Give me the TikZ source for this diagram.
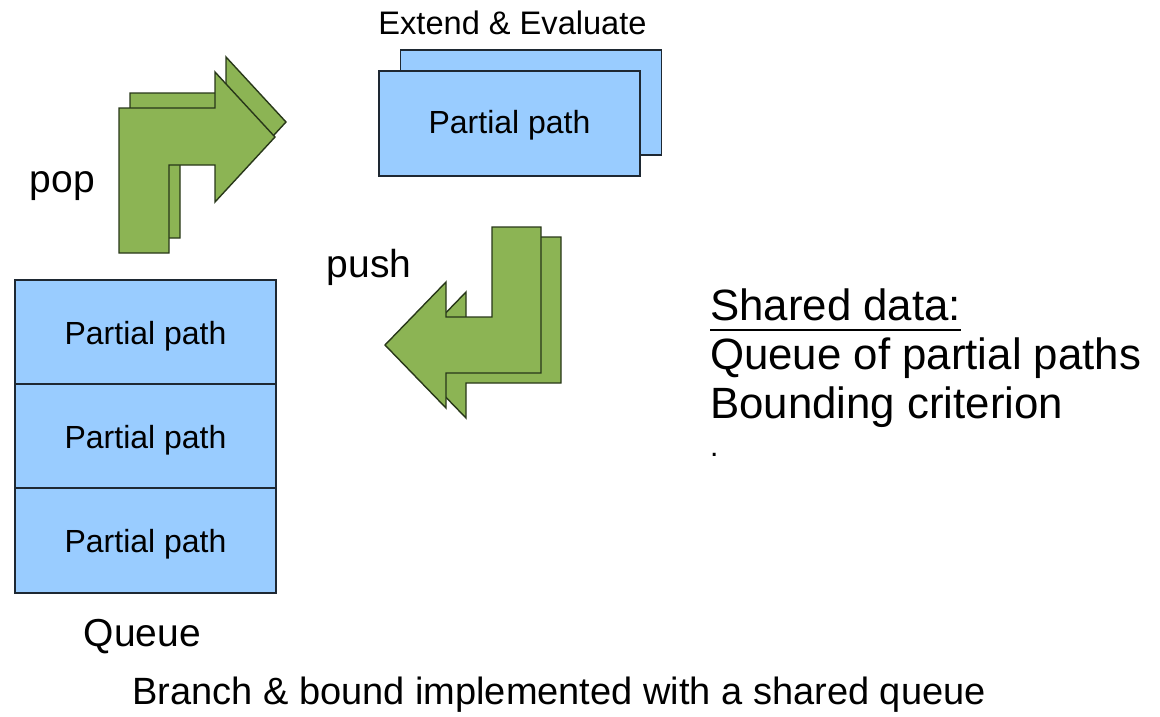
\documentclass[tikz,border=0pt]{standalone}
\usepackage{fontspec}
\usetikzlibrary{calc}
\setmainfont{Liberation Sans}
\definecolor{boxblue}{RGB}{153,204,255}
\definecolor{boxline}{RGB}{30,40,50}
\definecolor{arrgreen}{RGB}{140,180,84}
\definecolor{arrline}{RGB}{40,55,25}
\begin{document}
\begin{tikzpicture}[x=1pt,y=-1pt,
  pbox/.style={draw=boxline,fill=boxblue,line width=1.2pt,inner sep=0pt,outer sep=0pt,
    minimum width=261pt,minimum height=104pt,text height=31pt,text depth=7pt,
    font=\fontsize{32}{38}\selectfont},
  bent/.style={draw=arrline,fill=arrgreen,line width=1.4pt,line join=miter},
  lbl/.style={inner sep=0pt,anchor=base,font=\fontsize{39}{46}\selectfont},
  shared/.style={inner sep=0pt,anchor=base west,font=\fontsize{43.8}{50}\selectfont}]
\useasboundingbox (0,0) rectangle (1160,716);
% pop arrow (back, front)
\path[bent] (130,238) -- (130,93) -- (226,93) -- (226,57) -- (286,122) -- (226,187) -- (226,150) -- (180,150) -- (180,238) -- cycle;
\path[bent] (119,253) -- (119,108) -- (215,108) -- (215,72) -- (275,137) -- (215,202) -- (215,165) -- (169,165) -- (169,253) -- cycle;
% push arrow (back, front)
\path[bent] (512,237) -- (561,237) -- (561,383) -- (466,383) -- (466,418) -- (405,355) -- (466,292) -- (466,327) -- (512,327) -- cycle;
\path[bent] (492,227) -- (541,227) -- (541,373) -- (446,373) -- (446,408) -- (385,345) -- (446,282) -- (446,317) -- (492,317) -- cycle;
% top boxes
\node[pbox,minimum height=105pt] (eback) at (531,102.5) {};
\node[pbox,minimum height=105pt,text height=26pt] (efront) at (509.5,123.5) {Partial path};
\node[inner sep=0pt,anchor=base,font=\fontsize{32.6}{38}\selectfont] (etitle) at (512.5,34) {Extend \& Evaluate};
% queue
\node[pbox] (q1) at (145.5,332) {Partial path};
\node[pbox] (q2) at (145.5,436) {Partial path};
\node[pbox,minimum height=105pt] (q3) at (145.5,540.5) {Partial path};
% labels
\node[lbl] (pop) at (62.5,192) {pop};
\node[lbl] (push) at (369,277) {push};
\node[lbl] (queue) at (142.5,646) {Queue};
\node[lbl,font=\fontsize{38}{46}\selectfont] (caption) at (559,704) {Branch \& bound implemented with a shared queue};
% shared data
\node[shared] (sd) at (710,320) {Shared data:};
\draw[line width=1.6pt] ($(sd.base west)+(0,10)$) -- ($(sd.base east)+(0,10)$);
\node[shared] (sq) at (710,369) {Queue of partial paths};
\node[shared] (sb) at (710,418) {Bounding criterion};
\node[shared,font=\fontsize{30}{34}\selectfont,text height=4pt] (sdot) at (710,456) {.};
\end{tikzpicture}
\end{document}
